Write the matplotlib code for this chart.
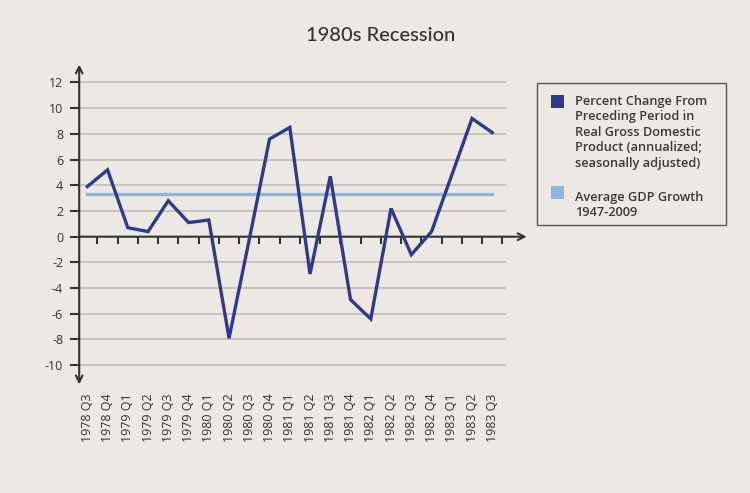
import numpy as np
import matplotlib
matplotlib.use('Agg')
import matplotlib.pyplot as plt
from matplotlib.patches import Rectangle

# data
quarters = ['1978 Q3', '1978 Q4', '1979 Q1', '1979 Q2', '1979 Q3', '1979 Q4',
            '1980 Q1', '1980 Q2', '1980 Q3', '1980 Q4', '1981 Q1', '1981 Q2',
            '1981 Q3', '1981 Q4', '1982 Q1', '1982 Q2', '1982 Q3', '1982 Q4',
            '1983 Q1', '1983 Q2', '1983 Q3']
gdp_change = [3.9, 5.2, 0.7, 0.4, 2.8, 1.1,
              1.3, -7.9, -0.2, 7.6, 8.5, -2.9,
              4.7, -4.9, -6.4, 2.2, -1.4, 0.4,
              4.8, 9.2, 8.1]
avg_growth = 3.3
y_ticks = [-10, -8, -6, -4, -2, 0, 2, 4, 6, 8, 10, 12]

bg = '#ece8e3'
navy = '#2f3a88'
light = '#8fb4e0'
dark = '#333333'

plt.rcParams['font.family'] = ['Open Sans', 'DejaVu Sans']
plt.rcParams['axes.unicode_minus'] = False

fig = plt.figure(figsize=(7.5, 4.93), dpi=100, facecolor=bg)
ax = fig.add_axes([0.1029, 0.2071, 0.6075, 0.6777], facecolor=bg)

x = np.arange(len(quarters))
ax.set_xlim(-0.5, 22)
ax.set_ylim(-12, 14)

# grid lines
ax.hlines([t for t in y_ticks if t != 0], -0.4, 20.7, color='#c8c3bc', lw=1.4, zorder=1)

# axes with arrows
ax.annotate('', xy=(-0.4, 13.4), xytext=(-0.4, -11.5),
            arrowprops=dict(arrowstyle='<->', color=dark, lw=1.5,
                            mutation_scale=12, shrinkA=0, shrinkB=0), zorder=3)
ax.annotate('', xy=(21.7, 0), xytext=(-0.4, 0),
            arrowprops=dict(arrowstyle='->', color=dark, lw=1.5,
                            mutation_scale=12, shrinkA=0, shrinkB=0), zorder=3)
ax.vlines(x + 0.5, -0.55, 0, color=dark, lw=1.5, zorder=3)

# series
ax.plot(x, [avg_growth] * len(x), color=light, lw=2.4, zorder=4)
ax.plot(x, gdp_change, color=navy, lw=2.4, zorder=5, solid_joinstyle='miter')

for s in ['top', 'right', 'bottom']:
    ax.spines[s].set_visible(False)
ax.spines['left'].set_position(('data', -0.4))
ax.spines['left'].set_color('none')

ax.set_yticks(y_ticks)
ax.tick_params(axis='y', direction='out', length=6.5, width=1.5, color=dark,
               labelsize=9, labelcolor=dark, pad=5)
ax.set_xticks(x)
ax.set_xticklabels(quarters, rotation=90, va='top')
ax.tick_params(axis='x', length=0, labelsize=9, labelcolor=dark, pad=2)

fig.text(0.508, 0.927, '1980s Recession', ha='center', va='center',
         fontsize=14.5, color=dark, fontweight='medium',
         family=['Lato', 'DejaVu Sans'])

# legend box
W, H = 750, 493
fig.patches.append(Rectangle((537 / W, 1 - 225 / H), (726 - 537) / W, (225 - 83) / H,
                             transform=fig.transFigure, facecolor=bg,
                             edgecolor='#555555', lw=1.0))
fig.patches.append(Rectangle((551 / W, 1 - 108 / H), 13 / W, 13 / H,
                             transform=fig.transFigure, facecolor=navy, edgecolor='none'))
fig.patches.append(Rectangle((551 / W, 1 - 199 / H), 13 / W, 13 / H,
                             transform=fig.transFigure, facecolor=light, edgecolor='none'))
fig.text(575 / W, 1 - 95 / H,
         'Percent Change From\nPreceding Period in\nReal Gross Domestic\n'
         'Product (annualized;\nseasonally adjusted)',
         ha='left', va='top', fontsize=9.2, color='#3a3a3a', linespacing=1.24,
         fontweight='semibold')
fig.text(575 / W, 1 - 191 / H, 'Average GDP Growth\n1947-2009',
         ha='left', va='top', fontsize=9.2, color='#3a3a3a', linespacing=1.24,
         fontweight='semibold')

fig.savefig('out.png', dpi=100, facecolor=bg)
